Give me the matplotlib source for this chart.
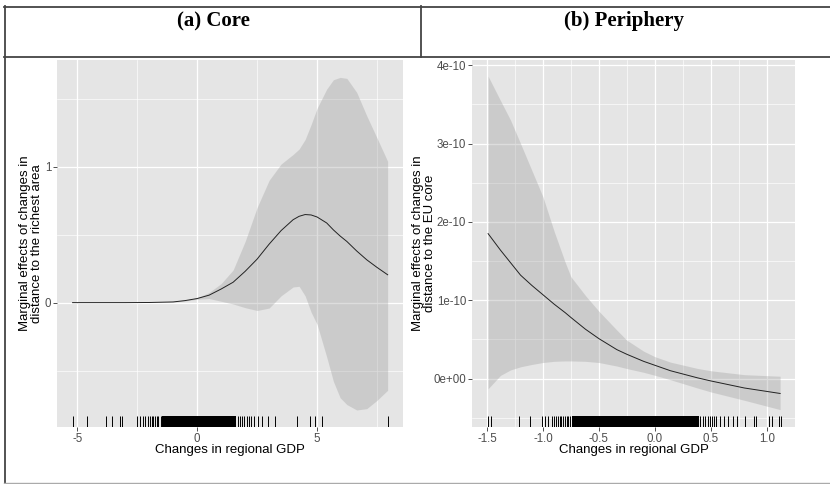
import matplotlib.pyplot as plt
from matplotlib.lines import Line2D
import numpy as np

# (a) core: marginal effect of distance to the richest area
core_x = [-5.19, -4.0, -3.0, -2.0, -1.0, -0.5, 0.0, 0.5, 1.0, 1.5, 2.0, 2.5, 3.0,
          3.5, 4.0, 4.25, 4.5, 4.75, 5.0, 5.4, 5.68, 5.96, 6.24, 6.65, 7.07, 7.49, 7.94]
core_fit = [0.0, 0.0, 0.0, 0.001, 0.005, 0.015, 0.03, 0.055, 0.1, 0.15, 0.23, 0.32, 0.43,
            0.53, 0.61, 0.635, 0.648, 0.645, 0.63, 0.586, 0.535, 0.49, 0.45, 0.38,
            0.315, 0.26, 0.205]
core_hi = [0.0, 0.0, 0.0, 0.001, 0.006, 0.018, 0.035, 0.075, 0.14, 0.24, 0.45, 0.70, 0.90,
           1.02, 1.09, 1.13, 1.2, 1.31, 1.43, 1.571, 1.64, 1.657, 1.65, 1.547,
           1.374, 1.214, 1.04]
core_lo = [0.0, 0.0, 0.0, 0.001, 0.004, 0.012, 0.025, 0.03, 0.01, -0.01, -0.037, -0.058, -0.04,
           0.05, 0.115, 0.12, 0.05, -0.07, -0.16, -0.4, -0.58, -0.7, -0.75, -0.79,
           -0.78, -0.72, -0.645]
core_rug = [-5.19, -4.57, -3.81, -3.53, -3.21, -3.14, -2.51, -2.375, -2.26, -2.17, -2.05,
            -1.96, -1.89, -1.82, -1.75, -1.68, -1.61, -1.5, 1.69, 1.79, 1.89, 1.97, 2.07,
            2.17, 2.25, 2.39, 2.53, 2.72, 2.94, 3.25, 4.15, 4.71, 4.92, 5.2, 7.94]
core_rug_dense = [(-1.45, 1.6)]

# (b) periphery: marginal effect of distance to the EU core (units of 1e-10)
peri_x = [-1.49, -1.38, -1.29, -1.2, -1.1, -1.0, -0.9, -0.8, -0.75, -0.62, -0.5, -0.34,
          -0.25, -0.1, 0.0, 0.14, 0.38, 0.5, 0.8, 1.12]
peri_fit = [1.85, 1.64, 1.48, 1.32, 1.19, 1.07, 0.95, 0.84, 0.78, 0.63, 0.51, 0.37,
            0.31, 0.22, 0.17, 0.1, 0.01, -0.03, -0.12, -0.19]
peri_hi = [3.86, 3.55, 3.3, 3.0, 2.66, 2.32, 1.88, 1.48, 1.3, 1.06, 0.86, 0.62,
           0.49, 0.35, 0.28, 0.21, 0.13, 0.1, 0.05, 0.03]
peri_lo = [-0.13, 0.04, 0.11, 0.15, 0.18, 0.205, 0.22, 0.225, 0.225, 0.22, 0.205, 0.16,
           0.128, 0.08, 0.042, -0.015, -0.12, -0.17, -0.277, -0.396]
peri_rug = [-1.491, -1.461, -1.214, -1.116, -1.012, -0.985, -0.955, -0.922, -0.902, -0.88,
            -0.866, -0.848, -0.836, -0.818, -0.804, -0.788, -0.773, -0.759, -0.744,
            0.408, 0.432, 0.453, 0.473, 0.491, 0.512, 0.533, 0.551, 0.58, 0.616, 0.655,
            0.7, 0.736, 0.81, 0.884, 0.908, 1.018, 1.048, 1.107, 1.128]
peri_rug_dense = [(-0.738, 0.393)]
peri_yticks = [0, 1, 2, 3, 4]
peri_ylabels = ['0e+00', '1e-10', '2e-10', '3e-10', '4e-10']

plt.rcParams['font.family'] = ['Liberation Sans', 'DejaVu Sans']

W, H = 830, 484
fig = plt.figure(figsize=(W / 100, H / 100), dpi=100)


def box(x0, y0, x1, y1):
  return [x0 / W, 1 - y1 / H, (x1 - x0) / W, (y1 - y0) / H]


def hline(y, x0, x1, color='#444444', lw=1.3):
  fig.add_artist(Line2D([x0 / W, x1 / W], [1 - y / H, 1 - y / H], color=color, lw=lw,
                        transform=fig.transFigure))


def vline(x, y0, y1, color='#444444', lw=1.3):
  fig.add_artist(Line2D([x / W, x / W], [1 - y0 / H, 1 - y1 / H], color=color, lw=lw,
                        transform=fig.transFigure))


def gg_panel(ax, xmajor, xminor, ymajor, yminor):
  ax.set_facecolor('#E5E5E5')
  for s in ax.spines.values():
    s.set_visible(False)
  ax.set_xticks(xmajor)
  ax.set_xticks(xminor, minor=True)
  ax.set_yticks(ymajor)
  ax.set_yticks(yminor, minor=True)
  ax.grid(True, which='major', color='white', lw=0.9)
  ax.grid(True, which='minor', color='white', lw=0.45)
  ax.set_axisbelow(True)
  ax.tick_params(which='major', length=2.75, width=0.6, color='#333333',
                 labelcolor='#4D4D4D', labelsize=8.3, pad=1.5)
  ax.tick_params(which='minor', length=0)


def draw(ax, x, fit, lo, hi, rug, dense, scale=1.0):
  x = np.asarray(x)
  ax.fill_between(x, np.asarray(lo) * scale, np.asarray(hi) * scale,
                  color='#999999', alpha=0.33, lw=0)
  ax.plot(x, np.asarray(fit) * scale, color='#222222', lw=0.7)
  ax.vlines(rug, 0, 0.03, transform=ax.get_xaxis_transform(), color='black', lw=0.7)
  for a, b in dense:
    ax.axvspan(a, b, ymin=0, ymax=0.03, color='black', lw=0)


# table frame
hline(6.5, 4, W)
hline(57, 4, W)
vline(4.5, 6, 483)
vline(421, 6, 57)
hline(482.5, 4, W, color='#AAAAAA', lw=1.0)
fig.text(213 / W, 1 - 21 / H, '(a) Core', ha='center', va='center',
         family='Liberation Serif', weight='bold', fontsize=15)
fig.text(624 / W, 1 - 21 / H, '(b) Periphery', ha='center', va='center',
         family='Liberation Serif', weight='bold', fontsize=15)

# core panel
ax1 = fig.add_axes(box(57, 60, 403, 427))
gg_panel(ax1, [-5, 0, 5], [-2.5, 2.5, 7.5], [0, 1], [-0.5, 0.5, 1.5])
draw(ax1, core_x, core_fit, core_lo, core_hi, core_rug, core_rug_dense)
ax1.set_xlim(-5.84, 8.58)
ax1.set_ylim(-0.915, 1.785)
ax1.set_xticklabels(['-5', '0', '5'])
ax1.set_xlabel('Changes in regional GDP', fontsize=9.5, color='black')
ax1.set_ylabel('Marginal effects of changes in\ndistance to the richest area',
               fontsize=9.5, color='black', linespacing=0.95)

# periphery panel
ax2 = fig.add_axes(box(472, 60, 795, 427))
gg_panel(ax2, [-1.5, -1.0, -0.5, 0.0, 0.5, 1.0],
         [-1.25, -0.75, -0.25, 0.25, 0.75],
         [v * 1e-10 for v in peri_yticks],
         [v * 1e-10 for v in [-0.5, 0.5, 1.5, 2.5, 3.5]])
draw(ax2, peri_x, peri_fit, peri_lo, peri_hi, peri_rug, peri_rug_dense, scale=1e-10)
ax2.set_xlim(-1.634, 1.253)
ax2.set_ylim(-0.618e-10, 4.066e-10)
ax2.set_xticklabels(['-1.5', '-1.0', '-0.5', '0.0', '0.5', '1.0'])
ax2.set_yticklabels(peri_ylabels)
ax2.set_xlabel('Changes in regional GDP', fontsize=9.5, color='black')
ax2.set_ylabel('Marginal effects of changes in\ndistance to the EU core',
               fontsize=9.5, color='black', linespacing=0.95)

for ax, xc in ((ax1, (31 - 57) / 346), (ax2, (424 - 472) / 323)):
  ax.yaxis.set_label_coords(xc, 0.5)
  ax.yaxis.label.set_va('center')
  ax.xaxis.set_label_coords(0.5, (427 - 450) / 367)
  ax.xaxis.label.set_va('center')

fig.savefig('out.png', dpi=100)
